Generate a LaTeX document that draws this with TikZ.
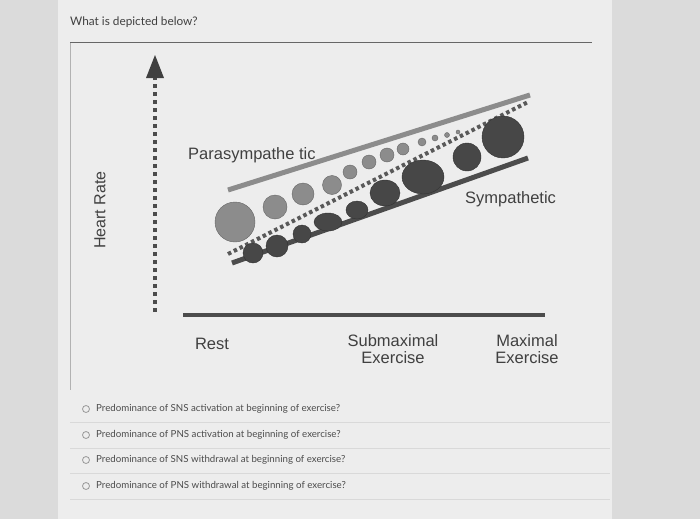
\documentclass[tikz,border=0pt]{standalone}
\usepackage{fontspec}
\setmainfont{Liberation Sans}
\newfontfamily\lato{Lato}
\begin{document}
\begin{tikzpicture}[x=1pt,y=-1pt,
  lab/.style={font=\fontsize{16.5}{17}\selectfont,text=black!75,align=center,inner sep=0pt},
  opt/.style={font=\lato\fontsize{9.7}{11}\selectfont,text=black!70,anchor=west,inner sep=0pt},
  radio/.style={circle,draw=black!40,line width=0.8pt,minimum size=7pt,inner sep=0pt},
  pns/.style={fill=black!45,draw=black!60,line width=0.4pt},
  sns/.style={fill=black!72,draw=black!80,line width=0.4pt}]
\fill[black!14] (0,0) rectangle (700,519);
\fill[black!7] (58,0) rectangle (612,519);
\useasboundingbox (0,0) rectangle (700,519);
\node[font=\lato\fontsize{11.8}{13}\selectfont,text=black!75,anchor=west,inner sep=0pt] (title) at (70,22) {What is depicted below?};
\draw[black!60,line width=1pt] (70,43) -- (592,43);
\draw[black!30,line width=0.6pt] (70,43) -- (70,390);
% axis arrow
\coordinate (ab) at (155,312);
\coordinate (at) at (155,55);
\draw[black!70,line width=4pt,dash pattern=on 4pt off 4pt] (ab) -- (155,76);
\fill[black!75] (at) -- (146,78) -- (164,78) -- cycle;
\node[lab,rotate=90,font=\fontsize{16}{17}\selectfont] (hr) at (100,210) {Heart Rate};
% baseline
\coordinate (b1) at (183,315); \coordinate (b2) at (545,315);
\draw[black!70,line width=4.5pt] (b1) -- (b2);
\node[lab] (rest) at (212,344) {Rest};
\node[lab] (sub) at (393,349) {Submaximal\\Exercise};
\node[lab] (max) at (527,349) {Maximal\\Exercise};
% lines
\coordinate (p1) at (228,190); \coordinate (p2) at (530,95);
\draw[black!45,line width=5pt] (p1) -- (p2);
\coordinate (s1) at (232,263); \coordinate (s2) at (528,158);
\draw[black!70,line width=5pt] (s1) -- (s2);
\coordinate (d1) at (228,254); \coordinate (d2) at (528,102);
\draw[black!65,line width=4pt,dash pattern=on 3.5pt off 3pt] (d1) -- (d2);
\node[lab,anchor=west] (para) at (188,155) {Parasympathe tic};
\node[lab,anchor=west] (symp) at (465,199) {Sympathetic};
% PNS circles
\foreach \x/\y/\r in {235/222/20,275/207/12,303/194/11,332/185/9.5,350/172/7,369/162/7,387/155/7,403/149/6,422/142/4,435/138/3,447/135/2.5,458/132/2}
  \filldraw[pns] (\x,\y) circle (\r);
% SNS circles
\foreach \x/\y/\rx/\ry in {253/253/10/10,277/246/11/11,302/234/9/9,328/222/14/9,357/210/11/9,385/193/15/13,423/177/21/17,467/157/14/14,503/137/21/21}
  \filldraw[sns] (\x,\y) ellipse[x radius=\rx,y radius=\ry];
% options
\foreach \y/\t [count=\i] in {409/Predominance of SNS activation at beginning of exercise?,435/Predominance of PNS activation at beginning of exercise?,460/Predominance of SNS withdrawal at beginning of exercise?,486/Predominance of PNS withdrawal at beginning of exercise?}{
  \node[radio] (r\i) at (86,\y) {};
  \node[opt] (o\i) at (96,\y) {\t};
}
\foreach \y in {422,448,473,499} \draw[black!15,line width=0.5pt] (70,\y) -- (610,\y);
\end{tikzpicture}
\end{document}
